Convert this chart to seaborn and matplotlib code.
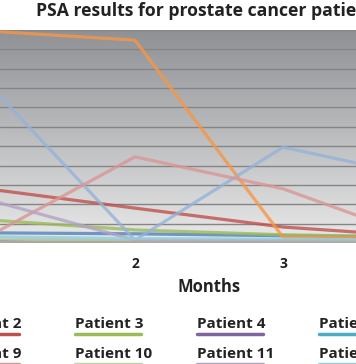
import numpy as np
import pandas as pd
import matplotlib.pyplot as plt
import seaborn as sns
from matplotlib.lines import Line2D
from matplotlib.colors import LinearSegmentedColormap

# PSA values per month (only months 1-4 fall inside the visible area)
months = [1, 2, 3, 4]
patients = ['Patient %d' % i for i in range(1, 15)]
psa = {
    'Patient 1': [1.05, 0.95, 0.75, 0.6],
    'Patient 2': [5.6, 3.6, 1.65, 0.6],
    'Patient 3': [2.4, 1.35, 0.85, 0.6],
    'Patient 4': [0.25, 0.2, 0.2, 0.2],
    'Patient 5': [0.1, 0.15, 0.1, 0.1],
    'Patient 6': [21.9, 20.95, 0.6, 0.5],
    'Patient 7': [0.1, 0.1, 0.1, 0.1],
    'Patient 8': [16.6, 0.3, 9.9, 6.6],
    'Patient 9': [0.6, 8.9, 5.6, 0.1],
    'Patient 10': [0.45, 0.2, 0.2, 0.2],
    'Patient 11': [4.5, 0.3, 0.2, 0.2],
    'Patient 12': [0.65, 0.45, 0.4, 0.3],
    'Patient 13': [0.1, 0.1, 0.1, 0.1],
    'Patient 14': [0.1, 0.1, 0.1, 0.1],
}
colors = ['#4f81bd', '#c0504d', '#9bbb59', '#8064a2', '#4bacc6', '#f79646', '#2c4d75',
          '#95b3d7', '#d99694', '#c3d69b', '#b3a2c7', '#93cddd', '#fac090', '#a5a5a5']
palette = dict(zip(patients, colors))

rows = []
for p in patients:
    for m, v in zip(months, psa[p]):
        rows.append({'Months': m, 'PSA': v, 'Patient': p})
df = pd.DataFrame(rows)

sns.set_style("white")
plt.rcParams['font.family'] = ['Open Sans', 'DejaVu Sans']

W, H = 356, 364
fig = plt.figure(figsize=(W / 100, H / 100), dpi=100)
ax = fig.add_axes([0, 1 - 243 / H, 1, 213 / H])

# gradient background
grad = np.linspace(0, 1, 256).reshape(-1, 1)
ax.imshow(grad, extent=[0, 1, 0, 1], transform=ax.transAxes, aspect='auto',
          cmap=LinearSegmentedColormap.from_list('bg', ['#e9e9e9', '#8f9195']),
          origin='lower', zorder=0)

sns.lineplot(data=df, x='Months', y='PSA', hue='Patient', palette=palette,
             linewidth=2.3, alpha=0.8, ax=ax, zorder=3, legend=False)

ax.set_yticks(np.arange(0, 23, 2))
ax.yaxis.grid(True, color='#858585', linewidth=1.0, zorder=1)
ax.set_axisbelow(True)
ax.set_yticklabels([])
ax.tick_params(axis='y', length=0)
ax.set_xticks(months)
ax.set_xticklabels([str(m) for m in months], fontweight='bold', fontsize=10, color='#222222')
ax.tick_params(axis='x', length=0, pad=10)
ax.set_xlim(2 - 135 / 148, 2 + 221 / 148)
ax.set_ylim(0, 22)
ax.set_xlabel('')
ax.set_ylabel('')
for s in ax.spines.values():
    s.set_visible(False)

fig.text(210 / W, 1 - 11 / H, 'PSA results for prostate cancer patients', ha='center', va='center',
         fontsize=12.7, fontweight='bold', color='#222222')
fig.text(209 / W, 1 - 287 / H, 'Months', ha='center', va='center',
         fontsize=12, fontweight='bold', color='#222222')

# legend: 7 columns, text with colour underline
for i, p in enumerate(patients):
    col, row = i % 7, i // 7
    x0 = -169 + 122 * col
    yt = 324 + 30 * row
    fig.text(x0 / W, 1 - yt / H, p, ha='left', va='center', fontsize=11,
             fontweight='bold', color='#222222')
    yl = 1 - (yt + 10) / H
    fig.add_artist(Line2D([x0 / W, (x0 + 66) / W], [yl, yl], color=palette[p],
                          linewidth=2.5, transform=fig.transFigure))

fig.savefig('out.png', dpi=100)
